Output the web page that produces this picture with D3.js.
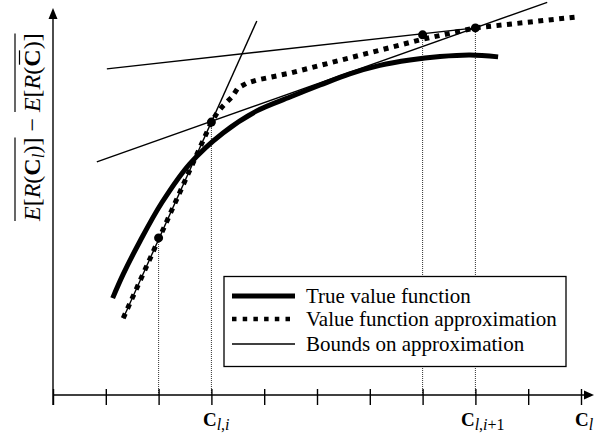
<!DOCTYPE html>
<html>
<head>
<meta charset="utf-8">
<script src="https://cdn.jsdelivr.net/npm/d3@7"></script>
<style>
  body { margin: 0; background: #fff; }
  text { font-family: "Liberation Serif", "Times New Roman", serif; fill: #000; }
</style>
</head>
<body>
<div id="chart"></div>
<script>
// data, in axis units (x ticks are 0..10)
var tickValues = d3.range(0, 11);

var trueX = [1.13, 1.33, 1.65, 2.06, 2.59, 3.22, 3.86, 4.49, 5.06, 5.62, 6.19, 6.76, 7.33, 7.9, 8.43];
var trueY = [2.51, 3.13, 3.99, 4.98, 5.99, 6.79, 7.36, 7.72, 8.03, 8.32, 8.54, 8.68, 8.77, 8.81, 8.76];

var approxX = [1.33, 3.0, 3.11, 3.22, 3.39, 3.5, 3.67, 3.86, 4.49, 7.01, 8.0, 9.89];
var approxY = [1.99, 7.07, 7.31, 7.49, 7.72, 7.95, 8.08, 8.16, 8.34, 9.22, 9.51, 9.79];

var pointX = [2, 3, 7, 8];
var pointY = [4.07, 7.07, 9.33, 9.51];

// bounds: [x1, y1, x2, y2]
var bounds = [
  [1.02, 8.45, 8.0, 9.51],
  [1.33, 1.99, 3.86, 9.69],
  [0.83, 6.04, 9.36, 10.17]
];

var legendLabels = ["True value function", "Value function approximation", "Bounds on approximation"];

var width = 597, height = 436;

var svg = d3.select("#chart").append("svg")
  .attr("width", width)
  .attr("height", height);

var x = d3.scaleLinear().domain([0, 10]).range([53, 581]);
var y = d3.scaleLinear().domain([0, 10]).range([395, 9]);

// dotted drop lines
svg.selectAll(".drop").data(pointX).enter().append("line")
  .attr("x1", function(d) { return x(d); })
  .attr("x2", function(d) { return x(d); })
  .attr("y1", y(0))
  .attr("y2", function(d, i) { return y(pointY[i]); })
  .attr("stroke", "#333")
  .attr("stroke-width", 1)
  .attr("stroke-dasharray", "1,1");

// axes
svg.append("line")
  .attr("x1", x(0)).attr("x2", x(10) + 8)
  .attr("y1", y(0)).attr("y2", y(0))
  .attr("stroke", "#000").attr("stroke-width", 1.4);
svg.append("path")
  .attr("d", "M" + (x(10) + 13) + "," + y(0) + "L" + (x(10) + 3) + "," + (y(0) - 4.5) + "L" + (x(10) + 3) + "," + (y(0) + 4.5) + "Z")
  .attr("fill", "#000");

svg.append("line")
  .attr("x1", x(0)).attr("x2", x(0))
  .attr("y1", y(0) + 10).attr("y2", y(10) + 6)
  .attr("stroke", "#000").attr("stroke-width", 1.4);
svg.append("path")
  .attr("d", "M" + x(0) + "," + (y(10) - 1) + "L" + (x(0) - 4.5) + "," + (y(10) + 10) + "L" + (x(0) + 4.5) + "," + (y(10) + 10) + "Z")
  .attr("fill", "#000");

var xAxis = svg.append("g")
  .attr("transform", "translate(0," + (y(0) - 6) + ")")
  .call(d3.axisBottom(x).tickValues(tickValues).tickSize(16).tickFormat(""));
xAxis.select(".domain").remove();
xAxis.selectAll(".tick line").attr("stroke", "#000").attr("stroke-width", 1.4);

// bounds
svg.selectAll(".bound").data(bounds).enter().append("line")
  .attr("x1", function(d) { return x(d[0]); })
  .attr("y1", function(d) { return y(d[1]); })
  .attr("x2", function(d) { return x(d[2]); })
  .attr("y2", function(d) { return y(d[3]); })
  .attr("stroke", "#000")
  .attr("stroke-width", 1.4);

// true value function
var trueLine = d3.line()
  .x(function(d) { return x(d[0]); })
  .y(function(d) { return y(d[1]); })
  .curve(d3.curveCatmullRom.alpha(0.5));
svg.append("path")
  .datum(d3.zip(trueX, trueY))
  .attr("d", trueLine)
  .attr("fill", "none")
  .attr("stroke", "#000")
  .attr("stroke-width", 5);

// approximation
var approxLine = d3.line()
  .x(function(d) { return x(d[0]); })
  .y(function(d) { return y(d[1]); });
svg.append("path")
  .datum(d3.zip(approxX, approxY))
  .attr("d", approxLine)
  .attr("fill", "none")
  .attr("stroke", "#000")
  .attr("stroke-width", 5)
  .attr("stroke-dasharray", "5,5.5");

// points
svg.selectAll(".pt").data(pointX).enter().append("circle")
  .attr("cx", function(d) { return x(d); })
  .attr("cy", function(d, i) { return y(pointY[i]); })
  .attr("r", 4.5)
  .attr("fill", "#000");

// legend
var legend = svg.append("g");
legend.append("rect")
  .attr("x", 224).attr("y", 276.5)
  .attr("width", 342).attr("height", 90)
  .attr("fill", "#fff")
  .attr("stroke", "#000").attr("stroke-width", 1.3);
var rowY = [296, 319, 344];
var lineStyles = [
  {w: 5, dash: null},
  {w: 4.5, dash: "4.5,6.2"},
  {w: 1.4, dash: null}
];
legendLabels.forEach(function(lab, i) {
  legend.append("line")
    .attr("x1", 232).attr("x2", 295)
    .attr("y1", rowY[i]).attr("y2", rowY[i])
    .attr("stroke", "#000")
    .attr("stroke-width", lineStyles[i].w)
    .attr("stroke-dasharray", lineStyles[i].dash);
  legend.append("text")
    .attr("x", 306).attr("y", rowY[i] + 6.5)
    .style("font-size", "21px")
    .text(lab);
});

// x labels
function cLabel(px, sub, anchorShift) {
  var t = svg.append("text")
    .attr("x", px + anchorShift).attr("y", 426)
    .style("font-size", "19px");
  t.append("tspan").style("font-weight", "bold").text("C");
  var s = t.append("tspan").attr("dy", 4).style("font-size", "16px");
  sub.forEach(function(p) {
    s.append("tspan").style("font-style", p[1] ? "italic" : "normal").text(p[0]);
  });
}
cLabel(x(3), [["l", true], [",", false], ["i", true]], -8.5);
cLabel(x(8), [["l", true], [",", false], ["i", true], ["+1", false]], -14.5);
cLabel(x(10), [["l", true]], -6);

// y label
var fs = 24;
var g = svg.append("g").attr("transform", "translate(40,221) rotate(-90)");
var p1 = g.append("text").attr("x", 0).attr("y", 0).style("font-size", fs + "px");
p1.append("tspan").style("font-style", "italic").text("E");
p1.append("tspan").text("[");
p1.append("tspan").style("font-style", "italic").text("R");
p1.append("tspan").text("(");
p1.append("tspan").style("font-weight", "bold").text("C");
p1.append("tspan").attr("dy", 4).style("font-style", "italic").style("font-size", "17px").text("l");
p1.append("tspan").attr("dy", -4).text(")]");
var w1 = p1.node().getComputedTextLength();
g.append("line").attr("x1", 0).attr("x2", w1).attr("y1", -25).attr("y2", -25)
  .attr("stroke", "#000").attr("stroke-width", 1.2);

var m = g.append("text").attr("x", w1 + 6).attr("y", 0).style("font-size", fs + "px").text("\u2212");
var wm = m.node().getComputedTextLength();

var x2 = w1 + 6 + wm + 6;
var p2 = g.append("text").attr("x", x2).attr("y", 0).style("font-size", fs + "px");
p2.append("tspan").style("font-style", "italic").text("E");
p2.append("tspan").text("[");
p2.append("tspan").style("font-style", "italic").text("R");
p2.append("tspan").text("(");
p2.append("tspan").style("font-weight", "bold").text("C");
p2.append("tspan").text(")]");
var w2 = p2.node().getComputedTextLength();
g.append("line").attr("x1", x2).attr("x2", x2 + w2).attr("y1", -25).attr("y2", -25)
  .attr("stroke", "#000").attr("stroke-width", 1.2);
var cExt = p2.node().getExtentOfChar(4);
g.append("line").attr("x1", cExt.x + 2).attr("x2", cExt.x + cExt.width - 1)
  .attr("y1", -20.5).attr("y2", -20.5)
  .attr("stroke", "#000").attr("stroke-width", 1.2);
</script>
</body>
</html>
